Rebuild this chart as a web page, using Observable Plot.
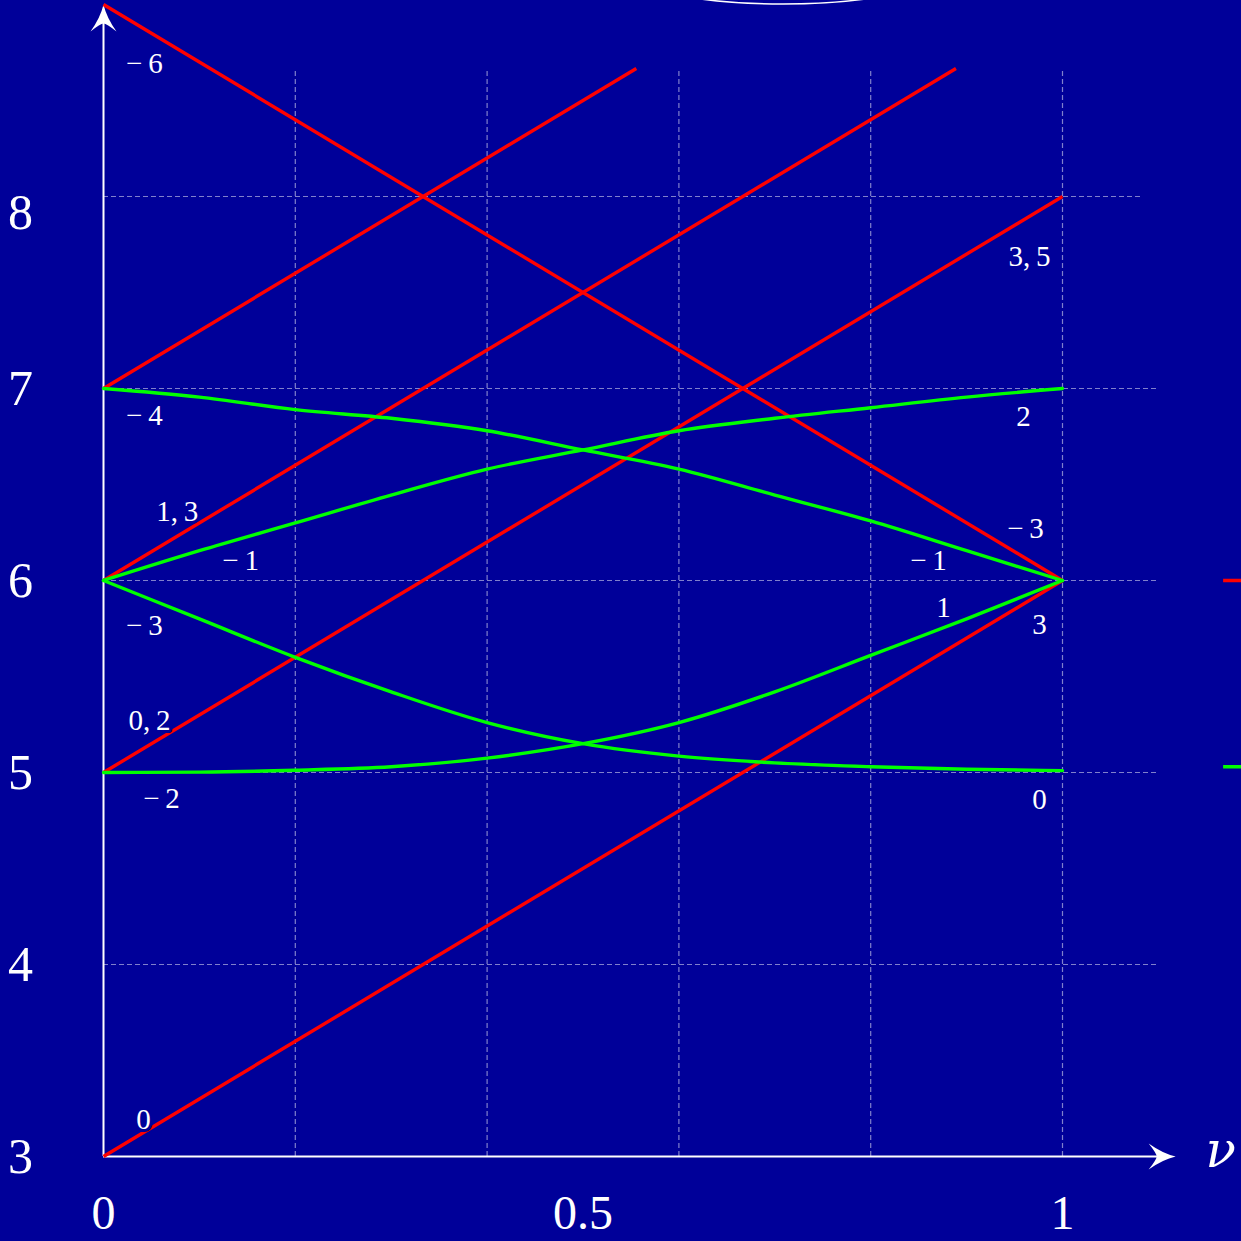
<!DOCTYPE html>
<html><head><meta charset="utf-8">
<script src="https://cdn.jsdelivr.net/npm/d3@7"></script>
<script src="https://cdn.jsdelivr.net/npm/@observablehq/plot@0.6"></script>
<style>html,body{margin:0;padding:0;background:#000099;overflow:hidden}</style>
</head><body><div id="chart"></div>
<script>
// ---- data ----
const nu = [0, 0.1, 0.2, 0.3, 0.4, 0.5, 0.6, 0.7, 0.8, 0.9, 1];
const green6to7 = [6, 6.155, 6.30, 6.445, 6.58, 6.68, 6.78, 6.845, 6.90, 6.955, 7];
const green7to6 = [7, 6.955, 6.89, 6.845, 6.78, 6.68, 6.58, 6.445, 6.31, 6.155, 6];
const green6to5 = [6, 5.80, 5.60, 5.42, 5.26, 5.15, 5.085, 5.05, 5.03, 5.017, 5.01];
const green5to6 = [5, 5.002, 5.012, 5.03, 5.075, 5.15, 5.26, 5.42, 5.61, 5.80, 6];

const redStartNu = [0, 0, 0, 0, 0];
const redStartE  = [9, 7, 6, 5, 3];
const redEndNu   = [1, 0.5556, 0.8889, 1, 1];
const redEndE    = [6, 8.667, 8.667, 8, 6];

const levelLabels  = ["−\u20096", "−\u20094", "1,\u20093", "−\u20091", "−\u20093", "0,\u20092", "−\u20092", "0", "3,\u20095", "2", "−\u20093", "−\u20091", "1", "3", "0"];
const levelLabelNu = [0.0427, 0.0427, 0.0769, 0.143, 0.0427, 0.048, 0.0605, 0.0417, 0.9656, 0.9593, 0.9614, 0.8603, 0.8759, 0.976, 0.976];
const levelLabelE  = [8.693, 6.859, 6.356, 6.104, 5.766, 5.271, 4.865, 3.193, 7.6875, 6.854, 6.271, 6.104, 5.859, 5.771, 4.859];

const xTicks = [0, 0.5, 1];
const yTicks = [3, 4, 5, 6, 7];
const yTopTick = [8];
const gridX = [0.2, 0.4, 0.6, 0.8, 1];
const gridY = [4, 5, 6, 7];
const gridYTop = [8];
const legendE = [6, 5.03];
const legendColors = ["#ff0000", "#00ff00"];

// ---- build ----
const bg = "#000099";
const gridColor = "#8080cc";
const greenSeries = [green6to7, green7to6, green6to5, green5to6];
const greenData = greenSeries.flatMap((s, k) => s.map((e, i) => ({nu: nu[i], E: e, k})));
const redData = redStartNu.map((x, i) => ({x1: x, y1: redStartE[i], x2: redEndNu[i], y2: redEndE[i]}));
const labelData = levelLabels.map((t, i) => ({t, nu: levelLabelNu[i], E: levelLabelE[i]}));

const arrowHead = {
  draw(ctx) {
    ctx.moveTo(0, 0);
    ctx.quadraticCurveTo(-3, 13, -13, 27);
    ctx.quadraticCurveTo(-3, 19, 0, 19);
    ctx.quadraticCurveTo(3, 19, 13, 27);
    ctx.quadraticCurveTo(3, 13, 0, 0);
    ctx.closePath();
  }
};

const plot = Plot.plot({
  width: 1241,
  height: 1241,
  marginLeft: 103,
  marginRight: 179,
  marginTop: 196,
  marginBottom: 85,
  x: {domain: [0, 1]},
  y: {domain: [3, 8]},
  style: {background: bg, fontFamily: "'Liberation Serif', serif", color: "white", overflow: "visible"},
  marks: [
    Plot.ruleX(gridX, {y1: 3, y2: 8.667, stroke: gridColor, strokeWidth: 1.2, strokeDasharray: "5,3"}),
    Plot.ruleY(gridY, {x1: 0, x2: 1.1, stroke: gridColor, strokeWidth: 1.2, strokeDasharray: "5,3"}),
    Plot.ruleY(gridYTop, {x1: 0, x2: 1.083, stroke: gridColor, strokeWidth: 1.2, strokeDasharray: "5,3"}),
    Plot.ruleY([3], {x1: 0, x2: 1.105, stroke: "white", strokeWidth: 2}),
    Plot.ruleX([0], {y1: 3, y2: 8.95, stroke: "white", strokeWidth: 2}),
    Plot.dot([{x: 0, y: 9.0}], {x: "x", y: "y", symbol: arrowHead, fill: "white", stroke: "none", r: 5}),
    Plot.dot([{x: 1.118, y: 3}], {x: "x", y: "y", symbol: arrowHead, fill: "white", stroke: "none", r: 5, rotate: 90}),
    Plot.link(redData, {x1: "x1", y1: "y1", x2: "x2", y2: "y2", stroke: "#ff0000", strokeWidth: 3.4}),
    Plot.line(greenData, {x: "nu", y: "E", z: "k", stroke: "#00ff00", strokeWidth: 3.4, curve: "monotone-x"}),
    Plot.text(labelData, {x: "nu", y: "E", text: "t", fill: "white", fontSize: 29, stroke: bg, strokeWidth: 6}),
    Plot.ruleY(legendE, {x1: 1.168, x2: 1.25, stroke: (d, i) => legendColors[i], strokeWidth: 3.4}),
    Plot.axisY(yTicks, {tickSize: 0, tickPadding: 0, dx: -83, textAnchor: "middle", fontSize: 50, fill: "white", tickFormat: d => String(d)}),
    Plot.text(yTopTick, {x: 0, y: d => d, text: d => String(d), dx: -83, dy: 16, fontSize: 50, fill: "white"}),
    Plot.axisX(xTicks, {tickSize: 0, tickPadding: 38, fontSize: 48, fill: "white", tickFormat: d => String(d)}),
    Plot.text(["ν"], {x: 1.149, y: 3.03, text: d => d, textAnchor: "start", fontStyle: "italic", fontFamily: "'DejaVu Serif', serif", fontSize: 50, fill: "white"})
  ]
});

d3.select(plot).append("ellipse")
  .attr("cx", 783).attr("cy", -40).attr("rx", 176).attr("ry", 44)
  .attr("fill", "none").attr("stroke", "white").attr("stroke-width", 1.5);

document.getElementById("chart").appendChild(plot);
</script>
</body></html>
